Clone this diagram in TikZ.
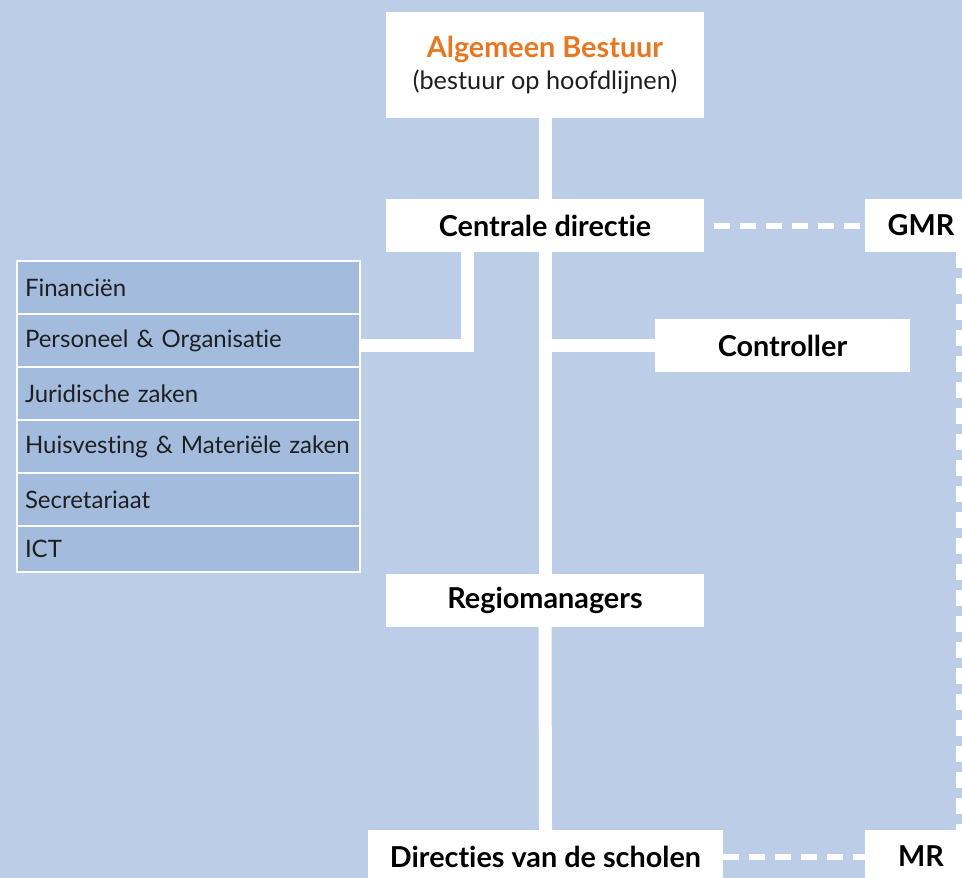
\documentclass[tikz,border=0pt]{standalone}
\usepackage{fontspec}
\setmainfont{Lato}[Ligatures=NoCommon]
\usetikzlibrary{positioning}
\definecolor{bgblue}{HTML}{BCCEE7}
\definecolor{rowblue}{HTML}{A3BCDE}
\definecolor{kop}{HTML}{E87722}
\tikzset{
  box/.style={fill=white, inner sep=0pt, minimum height=53pt,
    font=\fontsize{28.8}{31}\selectfont\bfseries},
  rowbox/.style={fill=rowblue, draw=white, line width=2pt, anchor=north west,
    minimum height=53pt, text width=327pt, inner xsep=8pt, inner ysep=0pt,
    outer sep=0pt, align=left, text=black!88, font=\fontsize{24}{26}\selectfont},
  link/.style={white, line width=13pt},
  dashlink/.style={white, line width=6pt, dash pattern=on 16pt off 10pt}
}

\begin{document}
\begin{tikzpicture}[x=1pt,y=-1pt]
    % background
    \fill[bgblue] (0,0) rectangle (962,878);
    \clip (0,0) rectangle (962,878);

    % main column
    \node[box, minimum width=318pt, minimum height=106pt, align=center] (ab) at (545,65)
        {{\color{kop}Algemeen Bestuur}\\[1pt]
         {\mdseries\fontsize{25.3}{27}\selectfont\color{black!88}(bestuur op hoofdlijnen)}};
    \node[box, minimum width=318pt] (cd) at (545,225.5) {Centrale directie};
    \node[box, minimum width=318pt] (rm) at (545,600.5) {Regiomanagers};
    \node[box, minimum width=355pt] (dir) at (545.5,856.5) {Directies van de scholen};

    % right side
    \node[box, minimum width=255pt] (ctrl) at (782.5,345.5) {Controller};
    \node[box, minimum width=112pt] (gmr) at (921,225.5) {GMR};
    \node[box, minimum width=112pt] (mr) at (921,856.5) {MR};

    % staff departments
    \node[rowbox] (fin) at (17,261) {Financiën};
    \node[rowbox] (pers) at (fin.south west) {Personeel \& Organisatie};
    \node[rowbox] (jur) at (pers.south west) {Juridische zaken};
    \node[rowbox] (huis) at (jur.south west) {Huisvesting \& Materiële zaken};
    \node[rowbox] (secr) at (huis.south west) {Secretariaat};
    \node[rowbox, minimum height=46pt] (ict) at (secr.south west) {ICT};

    % solid lines
    \coordinate (knik) at (467.5,345.5);
    \draw[link] (ab.south) -- (cd.north);
    \draw[link] (cd.south) -- (rm.north);
    \draw[link] (rm.south) -- (dir.north);
    \draw[link] (cd.south -| knik) -- (knik) -- (knik -| pers.east);
    \draw[link] (ctrl.west) -- (ctrl.west -| cd.south);

    % dashed lines
    \coordinate (rand) at (959,0);
    \draw[dashlink] ([xshift=10pt]cd.east) -- (gmr.west);
    \draw[dashlink] (gmr.south -| rand) -- (mr.north -| rand);
    \draw[dashlink] (dir.east) -- (mr.west);
\end{tikzpicture}
\end{document}
